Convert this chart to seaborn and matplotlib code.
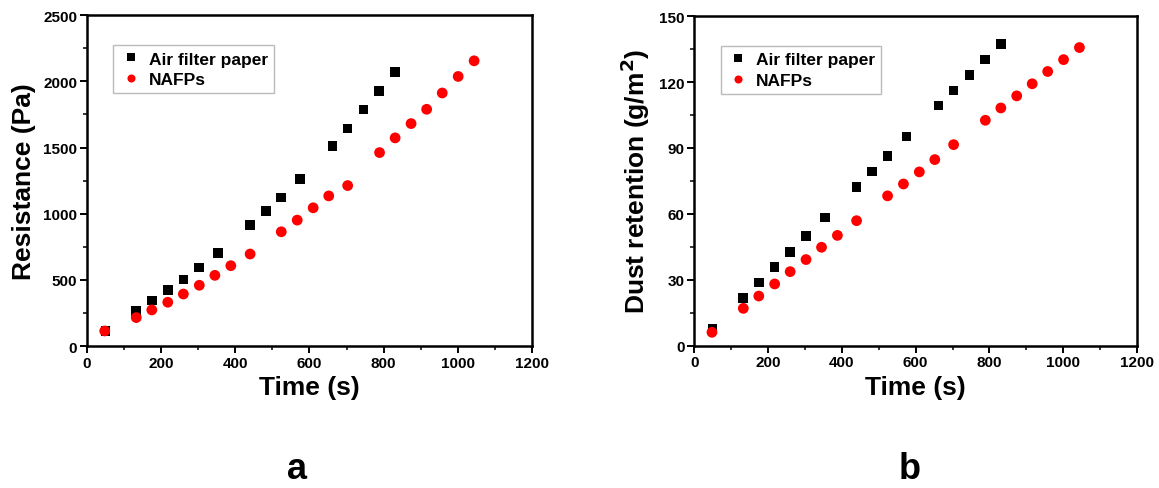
import matplotlib
matplotlib.use("Agg")
import matplotlib.pyplot as plt
import seaborn as sns
import pandas as pd
from matplotlib.ticker import MultipleLocator

# ---- data ----
time_paper = [50, 133, 175, 218, 260, 303, 354, 440, 482, 524, 575, 662, 703, 746, 788, 831]
time_nafp = [48, 133, 175, 218, 260, 303, 345, 388, 440, 524, 567, 610, 652, 703, 789, 831, 874, 916, 958, 1001, 1044]

res_paper = [115, 264, 344, 425, 505, 595, 706, 914, 1020, 1123, 1264, 1512, 1643, 1786, 1927, 2072]
res_nafp = [115, 216, 274, 332, 394, 460, 535, 608, 696, 864, 952, 1045, 1135, 1213, 1462, 1573, 1681, 1789, 1912, 2037, 2155]

dust_paper = [7.9, 21.7, 28.7, 35.7, 42.7, 49.8, 58.3, 72.3, 79.2, 86.4, 95.2, 109.3, 116.1, 123.3, 130.2, 137.2]
dust_nafp = [6.1, 17.0, 22.6, 28.1, 33.7, 39.2, 44.8, 50.2, 56.9, 68.2, 73.6, 79.1, 84.7, 91.5, 102.6, 108.2, 113.7, 119.2, 124.8, 130.2, 135.7]

series_names = ["Air filter paper", "NAFPs"]
panel_labels = ["a", "b"]

sns.set_theme(style="ticks")
plt.rcParams['font.family'] = ['Liberation Sans', 'DejaVu Sans']
plt.rcParams['font.weight'] = 'bold'
for k in ['text.color', 'axes.labelcolor', 'xtick.color', 'ytick.color', 'axes.edgecolor']:
    plt.rcParams[k] = 'black'

def make_df(t1, v1, t2, v2):
    return pd.concat([
        pd.DataFrame({"t": t1, "v": v1, "s": series_names[0]}),
        pd.DataFrame({"t": t2, "v": v2, "s": series_names[1]}),
    ], ignore_index=True)

fig = plt.figure(figsize=(11.59, 4.89), dpi=100)
ax1 = fig.add_axes([0.075, 0.290, 0.384, 0.677])
ax2 = fig.add_axes([0.599, 0.291, 0.382, 0.674])

panels = [
    (ax1, make_df(time_paper, res_paper, time_nafp, res_nafp), "Resistance (Pa)", 2500, 500, 250),
    (ax2, make_df(time_paper, dust_paper, time_nafp, dust_nafp), "Dust retention (g/m$\\mathbf{^2}$)", 150, 30, 15),
]

for ax, df, ylab, ymax, major, minor in panels:
    sns.scatterplot(data=df, x="t", y="v", hue="s", style="s",
                    palette={series_names[0]: "black", series_names[1]: "#ff0000"},
                    markers={series_names[0]: "s", series_names[1]: "o"},
                    size="s", sizes={series_names[0]: 48, series_names[1]: 60},
                    edgecolor="none", linewidth=0, ax=ax)
    ax.set_xlim(0, 1200)
    ax.set_ylim(0, ymax)
    ax.xaxis.set_major_locator(MultipleLocator(200))
    ax.xaxis.set_minor_locator(MultipleLocator(100))
    ax.yaxis.set_major_locator(MultipleLocator(major))
    ax.yaxis.set_minor_locator(MultipleLocator(minor))
    ax.tick_params(which="major", direction="out", length=5, width=1.4, labelsize=11, pad=2)
    ax.tick_params(which="minor", direction="out", length=3, width=1.1)
    for lab in ax.get_xticklabels() + ax.get_yticklabels():
        lab.set_fontweight("bold")
    for sp in ax.spines.values():
        sp.set_linewidth(1.8)
        sp.set_visible(True)
    ax.set_xlabel("Time (s)", fontsize=19, fontweight="bold", labelpad=4)
    ax.set_ylabel(ylab, fontsize=19, fontweight="bold", labelpad=5)
    handles, labels = ax.get_legend_handles_labels()
    leg = ax.legend(handles, labels, loc="upper left", bbox_to_anchor=(0.04, 0.935), frameon=True,
                    fancybox=False, edgecolor="#aaaaaa",
                    handletextpad=0.4, borderpad=0.35, labelspacing=0.3, handlelength=1.3,
                    prop={"weight": "bold", "size": 12.5}, markerscale=0.75)
    leg.get_frame().set_linewidth(1.0)

fig.text(0.256, 0.04, panel_labels[0], fontsize=26, fontweight="bold", ha="center", va="center")
fig.text(0.785, 0.04, panel_labels[1], fontsize=26, fontweight="bold", ha="center", va="center")

fig.savefig("out.png", dpi=100)
